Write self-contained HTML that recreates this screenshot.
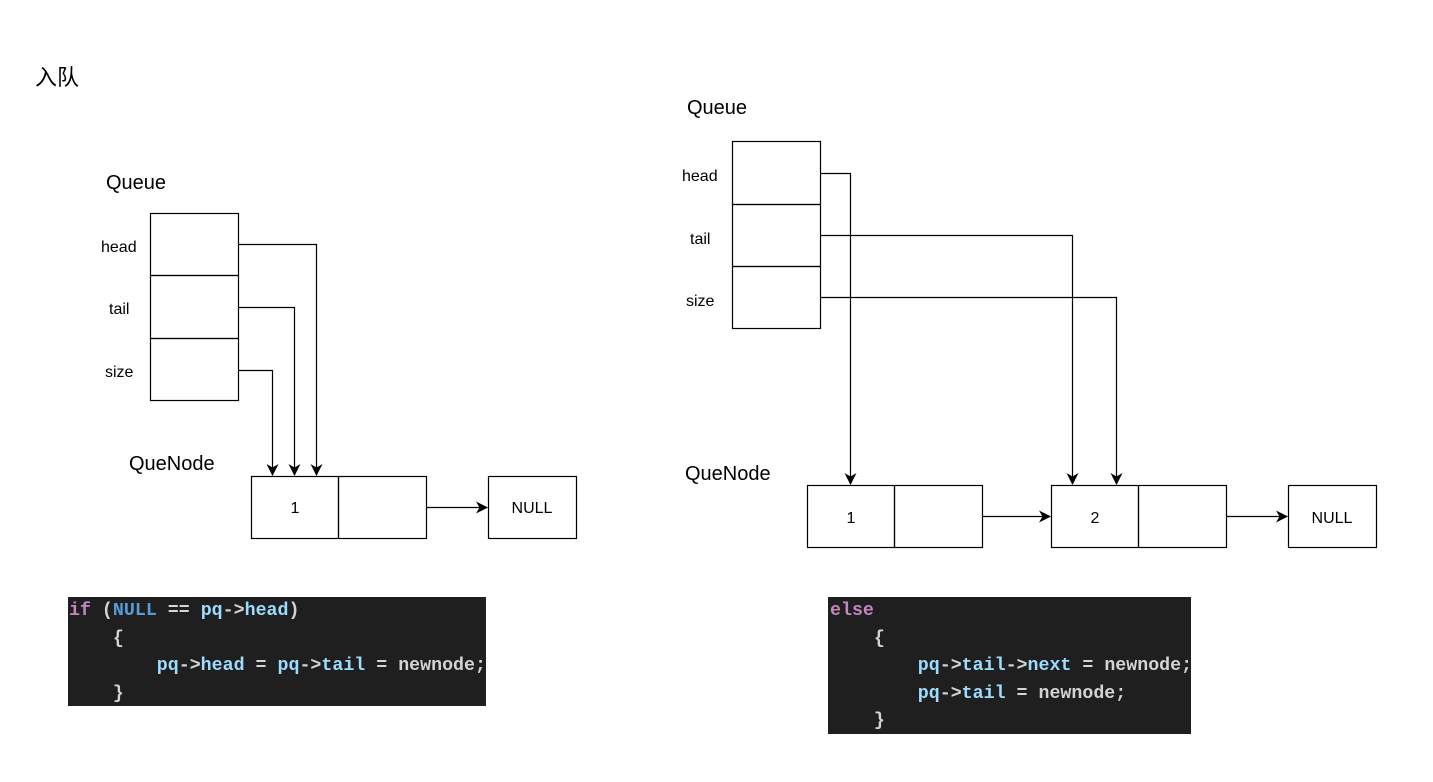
<!DOCTYPE html>
<html><head><meta charset="utf-8"><style>
html,body{margin:0;padding:0;background:#fff;}
svg{display:block;}
.t{font-family:"Liberation Sans","Noto Sans CJK SC",sans-serif;fill:#000;}
.c{font-family:"Liberation Mono",monospace;font-size:18.3px;font-weight:bold;}
</style></head><body>
<svg width="1433" height="782" xmlns="http://www.w3.org/2000/svg">
<defs><marker id="a" markerWidth="12" markerHeight="12" refX="11" refY="6" orient="auto" markerUnits="userSpaceOnUse"><path d="M0,0 L12,6 L0,12 L3.5,6 Z" fill="#000"/></marker></defs>
<rect width="1433" height="782" fill="#fff"/>
<text class="t" x="35" y="85" font-size="22">入队</text>
<g fill="none" stroke="#000" stroke-width="1.2">
<rect x="150.5" y="213.5" width="88" height="62"/>
<rect x="150.5" y="275.5" width="88" height="63"/>
<rect x="150.5" y="338.5" width="88" height="62"/>
<rect x="251.5" y="476.5" width="87" height="62"/>
<rect x="338.5" y="476.5" width="88" height="62"/>
<rect x="488.5" y="476.5" width="88" height="62"/>
<path d="M238 244.5 H316.5 V475" marker-end="url(#a)"/>
<path d="M238 307.5 H294.5 V475" marker-end="url(#a)"/>
<path d="M238 370.5 H272.5 V475" marker-end="url(#a)"/>
<path d="M426 507.5 H487" marker-end="url(#a)"/>
<rect x="732.5" y="141.5" width="88" height="63"/>
<rect x="732.5" y="204.5" width="88" height="62"/>
<rect x="732.5" y="266.5" width="88" height="62"/>
<rect x="807.5" y="485.5" width="87" height="62"/>
<rect x="894.5" y="485.5" width="88" height="62"/>
<rect x="1051.5" y="485.5" width="87" height="62"/>
<rect x="1138.5" y="485.5" width="88" height="62"/>
<rect x="1288.5" y="485.5" width="88" height="62"/>
<path d="M820 173.5 H850.5 V484" marker-end="url(#a)"/>
<path d="M820 235.5 H1072.5 V484" marker-end="url(#a)"/>
<path d="M820 297.5 H1116.5 V484" marker-end="url(#a)"/>
<path d="M982 516.5 H1050" marker-end="url(#a)"/>
<path d="M1226 516.5 H1287" marker-end="url(#a)"/>
</g>
<g class="t">
<text x="106" y="189" font-size="20">Queue</text>
<text x="101" y="252" font-size="16">head</text>
<text x="109" y="314" font-size="16">tail</text>
<text x="105" y="377" font-size="16">size</text>
<text x="129" y="470" font-size="20">QueNode</text>
<text x="295" y="513" font-size="16" text-anchor="middle">1</text>
<text x="532" y="513" font-size="16" text-anchor="middle">NULL</text>
<text x="687" y="114" font-size="20">Queue</text>
<text x="682" y="181" font-size="16">head</text>
<text x="690" y="244" font-size="16">tail</text>
<text x="686" y="306" font-size="16">size</text>
<text x="685" y="480" font-size="20">QueNode</text>
<text x="851" y="523" font-size="16" text-anchor="middle">1</text>
<text x="1095" y="523" font-size="16" text-anchor="middle">2</text>
<text x="1332" y="523" font-size="16" text-anchor="middle">NULL</text>
</g>
<rect x="68" y="597" width="418" height="109" fill="#1f1f1f"/>
<g class="c" fill="#d4d4d4">
<text x="69" y="615"><tspan fill="#c586c0">if</tspan> (<tspan fill="#569cd6">NULL</tspan> == <tspan fill="#9cdcfe">pq</tspan>-&gt;<tspan fill="#9cdcfe">head</tspan>)</text>
<text x="69" y="643" xml:space="preserve">    {</text>
<text x="69" y="670" xml:space="preserve">        <tspan fill="#9cdcfe">pq</tspan>-&gt;<tspan fill="#9cdcfe">head</tspan> = <tspan fill="#9cdcfe">pq</tspan>-&gt;<tspan fill="#9cdcfe">tail</tspan> = newnode;</text>
<text x="69" y="698" xml:space="preserve">    }</text>
</g>
<rect x="828" y="597" width="363" height="137" fill="#1f1f1f"/>
<g class="c" fill="#d4d4d4">
<text x="830" y="615"><tspan fill="#c586c0">else</tspan></text>
<text x="830" y="643" xml:space="preserve">    {</text>
<text x="830" y="670" xml:space="preserve">        <tspan fill="#9cdcfe">pq</tspan>-&gt;<tspan fill="#9cdcfe">tail</tspan>-&gt;<tspan fill="#9cdcfe">next</tspan> = newnode;</text>
<text x="830" y="698" xml:space="preserve">        <tspan fill="#9cdcfe">pq</tspan>-&gt;<tspan fill="#9cdcfe">tail</tspan> = newnode;</text>
<text x="830" y="725" xml:space="preserve">    }</text>
</g>
</svg>
</body></html>
